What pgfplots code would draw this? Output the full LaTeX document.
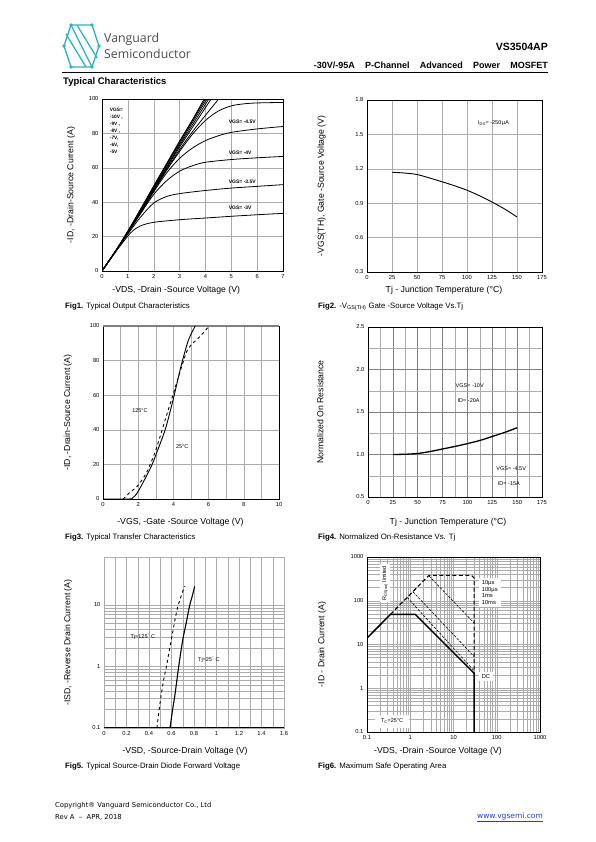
\documentclass[border=0pt]{standalone}
\usepackage{pgfplots}
\pgfplotsset{compat=1.18}
\usepackage{fontspec}
\setmainfont{Liberation Sans}
\newfontfamily\dejavu{DejaVu Sans}
\newfontfamily\opensans{Open Sans}
\definecolor{teal1}{HTML}{2EB3C6}
\definecolor{gridc}{HTML}{ABABAB}
\definecolor{linkblue}{HTML}{1F3FD0}
\pgfplotsset{
 ds/.style={scale only axis, anchor=south west,
   axis line style={black, line width=0.6pt},
   grid style={gridc, line width=0.4pt},
   major tick length=0pt, minor tick length=0pt,
   tick label style={font=\fontsize{5.8}{6}\selectfont},
   /pgf/number format/assume math mode=true,
   label style={font=\fontsize{8.7}{10}\selectfont},
   xlabel style={anchor=center}, ylabel style={anchor=center},
 },
 curve/.style={black, line width=0.8pt, smooth, no marks},
}
\newcommand\capfont{\fontsize{7.8}{9}\selectfont}
\begin{document}
\begin{tikzpicture}[x=1pt,y=1pt]
\fill[white] (0,0) rectangle (595,842);
% ---------- header ----------
\begin{scope}[teal1, line width=1.3pt]
 \draw (71,{842-25}) -- (92,{842-25}) -- (99,{842-46}) -- (92,{842-67}) -- (71,{842-67}) -- (64,{842-46}) -- cycle;
 \draw (71,{842-25}) -- (92,{842-67});
 \draw (77,{842-25}) -- (97,{842-58});
 \draw (66,{842-34}) -- (86,{842-67});
 \foreach \p in {(71,{842-25}),(92,{842-25}),(99,{842-46}),(92,{842-67}),(71,{842-67}),(64,{842-46})} \fill \p circle (1.8);
\end{scope}
\node[anchor=west, font=\opensans\fontsize{12.3}{13}\selectfont, text=black!70, inner sep=0] at (104,{842-39}) {Vanguard};
\node[anchor=west, font=\opensans\fontsize{12.3}{13}\selectfont, text=black!70, inner sep=0] at (104,{842-54}) {Semiconductor};
\node[anchor=east, font=\bfseries\fontsize{10.5}{12}\selectfont, inner sep=0] at (548,{842-47}) {VS3504AP};
\node[anchor=east, font=\bfseries\fontsize{9}{10}\selectfont, inner sep=0] at (548,{842-65}) {\makebox[234pt][s]{-30V/-95A P-Channel Advanced Power MOSFET}};
\draw[line width=0.8pt] (62,{842-72}) -- (548,{842-72});
\node[anchor=west, font=\bfseries\fontsize{9.5}{11}\selectfont, inner sep=0] at (63,{842-82}) {Typical Characteristics};
% ---------- Fig1 ----------
\begin{axis}[ds, at={(102pt,571pt)}, width=181pt, height=172pt,
  xmin=0,xmax=7,ymin=0,ymax=100, xtick={0,...,7}, ytick={0,20,...,100}, grid=major,
  xlabel={-VDS, -Drain -Source Voltage (V)}, ylabel={-ID, -Drain-Source Current (A)},
  xlabel style={at={(axis description cs:0.41,-0.11)}}, ylabel style={at={(axis description cs:-0.17,0.5)}}]
\addplot[curve] coordinates {(0,0)(0.5,11)(1,23.2)(1.5,36.2)(2,49.5)(2.5,62.5)(3,75.5)(3.5,88)(3.95,100)};
\addplot[curve] coordinates {(0,0)(0.5,11)(1,23)(1.5,36)(2,49)(2.5,62)(3,75)(3.5,87.5)(4.0,100)};
\addplot[curve] coordinates {(0,0)(0.5,11)(1,23)(1.5,35.5)(2,48.5)(2.5,61.5)(3,74)(3.5,86.5)(4.06,100)};
\addplot[curve] coordinates {(0,0)(0.5,11)(1,22.8)(1.5,35)(2,48)(2.5,60.5)(3,73)(3.5,85)(4.13,100)};
\addplot[curve] coordinates {(0,0)(0.5,11)(1,22.6)(1.5,34.8)(2,47.5)(2.5,59.8)(3,72)(3.5,83.5)(4.22,100)};
\addplot[curve] coordinates {(0,0)(0.5,11)(1,22.5)(1.5,34.5)(2,47)(2.5,59)(3,70.5)(3.5,81)(4,90.5)(4.5,99.8)};
\addplot[curve] coordinates {(0,0)(0.5,11)(1,22.3)(1.5,34.3)(2,46.6)(2.5,58.5)(3,69.5)(3.5,79.5)(4,87.5)(4.5,93)(5,96)(5.5,97.2)(6,97.7)(7,98)};
\addplot[curve] coordinates {(0,0)(0.5,11)(1,22.2)(1.5,34)(2,46)(2.5,57)(3,65.5)(3.5,71.5)(4,75.8)(4.5,78.6)(5,80.6)(6,82.6)(7,84)};
\addplot[curve] coordinates {(0,0)(0.5,11)(1,22)(1.5,33.5)(2,44.5)(2.5,52.5)(3,58)(3.5,61.2)(4,63.2)(5,64.8)(6,65.8)(7,66.6)};
\addplot[curve] coordinates {(0,0)(0.5,11)(1,21.5)(1.5,31.5)(2,39.5)(2.5,43.3)(3,45)(4,46.8)(5,48.2)(6,49.2)(7,50.2)};
\addplot[curve] coordinates {(0,0)(0.5,10.5)(0.8,16.5)(1,20.3)(1.2,23.5)(1.5,26.3)(2,28.3)(3,29.8)(4,30.8)(5,31.8)(6,32.7)(7,33.5)};
\node[anchor=north west, align=left, font=\bfseries\fontsize{4.8}{7}\selectfont, inner sep=0] at (axis cs:0.3,95) {VGS=\\-10V ,\\-9V ,\\-8V ,\\-7V,\\-6V,\\-5V};
\node[anchor=west, font=\bfseries\fontsize{5}{6}\selectfont, inner sep=0] at (axis cs:4.9,86.5) {VGS= -4.5V};
\node[anchor=west, font=\bfseries\fontsize{5}{6}\selectfont, inner sep=0] at (axis cs:4.9,69) {VGS= -4V};
\node[anchor=west, font=\bfseries\fontsize{5}{6}\selectfont, inner sep=0] at (axis cs:4.9,52) {VGS= -3.5V};
\node[anchor=west, font=\bfseries\fontsize{5}{6}\selectfont, inner sep=0] at (axis cs:4.9,36.5) {VGS= -3V};
\end{axis}
\node[anchor=west, font=\capfont, inner sep=0] at (65,{842-307}) {\textbf{Fig1.} Typical Output Characteristics};
% ---------- Fig2 ----------
\begin{axis}[ds, at={(367pt,570pt)}, width=175pt, height=172pt,
  xmin=0,xmax=175,ymin=0.3,ymax=1.8, xtick={0,25,...,175}, ytick={0.3,0.6,0.9,1.2,1.5,1.8},
  yticklabel style={/pgf/number format/fixed, /pgf/number format/precision=1}, grid=major,
  xlabel={Tj - Junction Temperature (\textdegree C)}, ylabel={-VGS(TH), Gate -Source Voltage (V)},
  xlabel style={at={(axis description cs:0.44,-0.105)}}, ylabel style={at={(axis description cs:-0.26,0.5)}}]
\addplot[curve, line width=0.9pt] coordinates {(25,1.17)(37.5,1.163)(50,1.15)(62.5,1.12)(75,1.087)(87.5,1.052)(100,1.013)(112.5,0.965)(125,0.91)(137.5,0.85)(150,0.78)};
\node[anchor=west, font=\fontsize{5.5}{6}\selectfont, inner sep=0] at (axis cs:111,1.6) {I\textsubscript{DS}= -250\,µA};
\end{axis}
\node[anchor=west, font=\capfont, inner sep=0] at (318,{842-307}) {\textbf{Fig2.} -V\textsubscript{GS(TH)} Gate -Source Voltage Vs.Tj};
% ---------- Fig3 ----------
\begin{axis}[ds, at={(103pt,343pt)}, width=176pt, height=173pt,
  xmin=0,xmax=10,ymin=0,ymax=100, xtick={0,2,...,10}, minor x tick num=1, ytick={0,20,...,100}, grid=both,
  xlabel={-VGS, -Gate -Source Voltage (V)}, ylabel={-ID, -Drain-Source Current (A)},
  xlabel style={at={(axis description cs:0.44,-0.135)}}, ylabel style={at={(axis description cs:-0.2,0.5)}}]
\draw[gray, line width=1.6pt] (rel axis cs:0,1) -- (rel axis cs:1,1);
\addplot[curve, line width=0.9pt] coordinates {(0,0)(1.5,0)(1.7,0.8)(1.93,3.3)(2.3,10)(2.78,19.7)(3,25.4)(3.53,40)(3.95,56)(4.29,70.7)(4.5,79.4)(4.86,92)(5.24,100)};
\addplot[curve, line width=0.9pt, dashed] coordinates {(1.15,0)(1.5,3.5)(2,8)(2.5,15.8)(3,28.3)(3.5,44.7)(4,61)(4.5,77.5)(4.75,85)(5,89)(5.5,93.8)(6,99.6)};
\node[font=\fontsize{5.5}{6}\selectfont, inner sep=0] at (axis cs:2.1,51.3) {125\textdegree C};
\node[font=\fontsize{5.5}{6}\selectfont, inner sep=0] at (axis cs:4.5,30) {25\textdegree C};
\end{axis}
\node[anchor=west, font=\capfont, inner sep=0] at (65,{842-538}) {\textbf{Fig3.} Typical Transfer Characteristics};
% ---------- Fig4 ----------
\begin{axis}[ds, at={(368pt,345pt)}, width=174pt, height=170pt,
  xmin=0,xmax=175,ymin=0.5,ymax=2.5, xtick={0,25,...,175}, minor x tick num=1, ytick={0.5,1,1.5,2,2.5}, minor y tick num=1,
  yticklabel style={/pgf/number format/fixed, /pgf/number format/fixed zerofill, /pgf/number format/precision=1},
  grid=both, major grid style={gray, line width=0.5pt},
  xlabel={Tj - Junction Temperature (\textdegree C)}, ylabel={Normalized On Resistance},
  xlabel style={at={(axis description cs:0.46,-0.15)}}, ylabel style={at={(axis description cs:-0.275,0.5)}}]
\addplot[curve, line width=1.3pt] coordinates {(25,1.0)(37.5,1.003)(50,1.012)(62.5,1.035)(75,1.065)(87.5,1.095)(100,1.128)(112.5,1.165)(125,1.212)(137.5,1.26)(150,1.315)};
\node[anchor=west, font=\fontsize{5.5}{6}\selectfont, inner sep=0] at (axis cs:88,1.814) {VGS= -10V};
\node[anchor=west, font=\fontsize{5.5}{6}\selectfont, inner sep=0] at (axis cs:90,1.637) {ID= -20A};
\node[anchor=west, font=\fontsize{5.5}{6}\selectfont, inner sep=0] at (axis cs:129,0.833) {VGS= -4.5V};
\node[anchor=west, font=\fontsize{5.5}{6}\selectfont, inner sep=0] at (axis cs:130.5,0.657) {ID= -15A};
\end{axis}
\node[anchor=west, font=\capfont, inner sep=0] at (318,{842-538}) {\textbf{Fig4.} Normalized On-Resistance Vs. Tj};
% ---------- Fig5 ----------
\begin{axis}[ds, at={(104pt,114pt)}, width=180pt, height=171pt, ymode=log,
  axis line style={gridc, line width=0.6pt},
  xmin=0,xmax=1.6,ymin=0.1,ymax=60, xtick={0,0.2,...,1.6}, minor x tick num=1,
  ytick={0.1,1,10}, yticklabels={0.1,1,10}, grid=both,
  xlabel={-VSD, -Source-Drain Voltage (V)}, ylabel={-ISD, -Reverse Drain Current (A)},
  xlabel style={at={(axis description cs:0.45,-0.134)}}, ylabel style={at={(axis description cs:-0.2,0.5)}}]
\draw[black, line width=1.2pt] (rel axis cs:0,0) -- (rel axis cs:1,0);
\addplot[curve, line width=0.9pt, dashed] coordinates {(0.47,0.1)(0.5,0.27)(0.53,0.6)(0.555,1)(0.58,1.8)(0.6,2.8)(0.625,5)(0.65,8.5)(0.68,13)(0.717,20)};
\addplot[curve, line width=1.1pt] coordinates {(0.587,0.1)(0.61,0.2)(0.63,0.34)(0.664,1)(0.7,2.7)(0.73,5)(0.76,9.5)(0.785,14)(0.806,20)};
\node[anchor=west, font=\fontsize{5.5}{6}\selectfont, inner sep=0] at (axis cs:0.235,3.06) {Tj=125\textsuperscript{\textdegree} C};
\node[anchor=west, font=\fontsize{5.5}{6}\selectfont, inner sep=0] at (axis cs:0.835,1.28) {Tj=25\textsuperscript{\textdegree} C};
\end{axis}
\node[anchor=west, font=\capfont, inner sep=0] at (65,{842-767}) {\textbf{Fig5.} Typical Source-Drain Diode Forward Voltage};
% ---------- Fig6 ----------
\begin{axis}[ds, at={(367pt,110pt)}, width=173pt, height=175pt, xmode=log, ymode=log,
  xmin=0.1,xmax=1000,ymin=0.1,ymax=1000, xtick={0.1,1,10,100,1000}, xticklabels={0.1,1,10,100,1000},
  ytick={0.1,1,10,100,1000}, yticklabels={0.1,1,10,100,1000}, grid=both,
  xlabel={-VDS, -Drain -Source Voltage (V)}, ylabel={-ID - Drain Current (A)},
  xlabel style={at={(axis description cs:0.41,-0.11)}}, ylabel style={at={(axis description cs:-0.26,0.5)}}]
\node[fill=white, inner sep=2pt, rotate=90, font=\fontsize{5.5}{6}\selectfont] at (axis cs:0.26,250) {R\textsubscript{DS(on)} limited};
\node[fill=white, anchor=north west, align=left, inner xsep=3pt, inner ysep=2pt, font=\fontsize{5.8}{6.8}\selectfont] at (axis cs:38,330) {10µs\\100µs\\1ms\\10ms};
\node[fill=white, anchor=west, inner xsep=3pt, inner ysep=2.5pt, font=\fontsize{5.8}{6}\selectfont] at (axis cs:38,1.9) {DC};
\node[fill=white, inner xsep=6pt, inner ysep=4pt, font=\fontsize{5.5}{6}\selectfont] at (axis cs:0.38,0.173) {T\textsubscript{C}=25\textdegree C};
\addplot[black, line width=0.6pt, dash pattern=on 2.5pt off 1.5pt] coordinates {(2.7,370)(30,31)};
\addplot[black, line width=0.6pt, dash pattern=on 2.5pt off 1.5pt] coordinates {(1.15,161)(30,5.3)};
\addplot[black, line width=0.6pt, dash pattern=on 2.5pt off 1.5pt] coordinates {(0.85,119)(30,2.5)};
\addplot[black, line width=1.1pt, dash pattern=on 4pt off 2.5pt] coordinates {(0.35,49)(2.7,380)(26,380)(30,330)(30,2.2)};
\addplot[black, line width=1.5pt] coordinates {(0.1,14)(0.35,49)(1.3,49)(30,2.2)(30,0.1)};
\end{axis}
\node[anchor=west, font=\capfont, inner sep=0] at (318,{842-767}) {\textbf{Fig6.} Maximum Safe Operating Area};
% ---------- footer ----------
\node[anchor=west, font=\dejavu\fontsize{6.8}{7.5}\selectfont, inner sep=0] at (55,{842-806}) {Copyright® Vanguard Semiconductor Co., Ltd};
\node[anchor=west, font=\dejavu\fontsize{6.8}{7.5}\selectfont, inner sep=0] at (55,{842-817}) {Rev A \ – \ APR, 2018};
\node[anchor=east, font=\dejavu\fontsize{7.5}{8.5}\selectfont, text=linkblue, inner sep=0] at (543,{842-817}) {\underline{www.vgsemi.com}};
\end{tikzpicture}
\end{document}
